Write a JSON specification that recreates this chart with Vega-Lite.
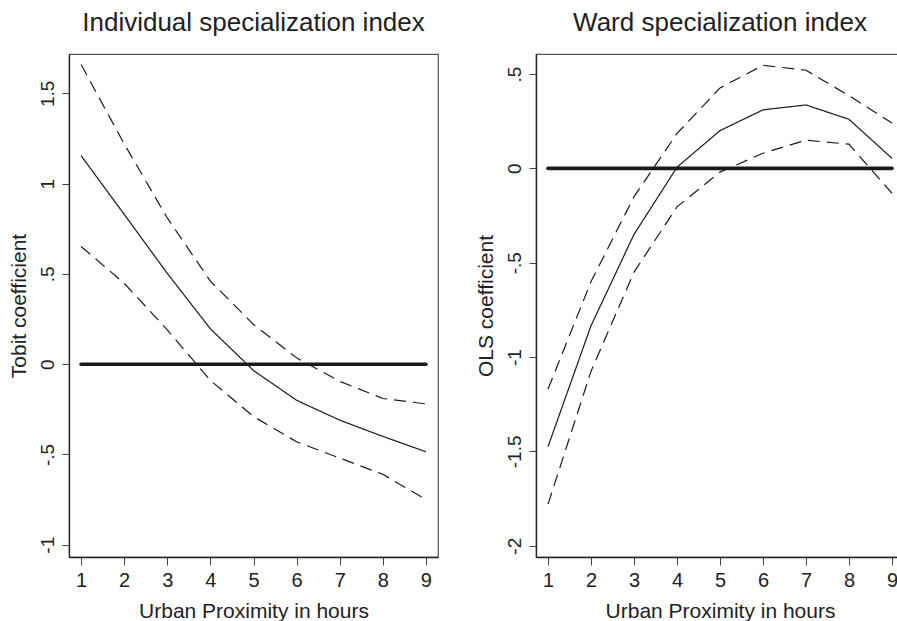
{
  "$schema": "https://vega.github.io/schema/vega-lite/v6.json",
  "padding": {"left": 7, "top": 9, "right": 0, "bottom": 0},
  "background": "white",
  "config": {
    "font": "Liberation Sans",
    "view": {"stroke": "#555", "strokeWidth": 1.2},
    "axis": {
      "grid": false,
      "domainColor": "#222",
      "domainWidth": 1.3,
      "tickColor": "#444",
      "tickWidth": 1,
      "labelColor": "#222",
      "labelFont": "Liberation Sans",
      "titleFont": "Liberation Sans",
      "titleFontSize": 21,
      "titleFontWeight": "normal",
      "titleColor": "#222",
      "labelFlush": false,
      "labelOverlap": false
    },
    "axisX": {"tickSize": 8, "labelPadding": 5, "titlePadding": 10, "labelFontSize": 20},
    "axisY": {"tickSize": 7, "labelPadding": 5, "titlePadding": 9, "labelAngle": -90, "labelFontSize": 19},
    "title": {"fontSize": 26, "fontWeight": "normal", "color": "#222", "font": "Liberation Sans", "frame": "group", "anchor": "middle", "baseline": "bottom", "offset": 18}
  },
  "datasets": {
    "ind": [
      {"x": 1, "series": "estimate", "value": 1.155},
      {"x": 2, "series": "estimate", "value": 0.83},
      {"x": 3, "series": "estimate", "value": 0.503},
      {"x": 4, "series": "estimate", "value": 0.196},
      {"x": 5, "series": "estimate", "value": -0.035},
      {"x": 6, "series": "estimate", "value": -0.2},
      {"x": 7, "series": "estimate", "value": -0.31},
      {"x": 8, "series": "estimate", "value": -0.4},
      {"x": 9, "series": "estimate", "value": -0.485},
      {"x": 1, "series": "upper", "value": 1.66},
      {"x": 2, "series": "upper", "value": 1.22},
      {"x": 3, "series": "upper", "value": 0.81},
      {"x": 4, "series": "upper", "value": 0.46},
      {"x": 5, "series": "upper", "value": 0.22},
      {"x": 6, "series": "upper", "value": 0.035},
      {"x": 7, "series": "upper", "value": -0.095},
      {"x": 8, "series": "upper", "value": -0.19},
      {"x": 9, "series": "upper", "value": -0.22},
      {"x": 1, "series": "lower", "value": 0.652},
      {"x": 2, "series": "lower", "value": 0.448},
      {"x": 3, "series": "lower", "value": 0.19},
      {"x": 4, "series": "lower", "value": -0.09},
      {"x": 5, "series": "lower", "value": -0.29},
      {"x": 6, "series": "lower", "value": -0.43},
      {"x": 7, "series": "lower", "value": -0.52},
      {"x": 8, "series": "lower", "value": -0.61},
      {"x": 9, "series": "lower", "value": -0.75}
    ],
    "ward": [
      {"x": 1, "series": "estimate", "value": -1.475},
      {"x": 2, "series": "estimate", "value": -0.834},
      {"x": 3, "series": "estimate", "value": -0.35},
      {"x": 4, "series": "estimate", "value": 0.006},
      {"x": 5, "series": "estimate", "value": 0.2},
      {"x": 6, "series": "estimate", "value": 0.31},
      {"x": 7, "series": "estimate", "value": 0.336},
      {"x": 8, "series": "estimate", "value": 0.26},
      {"x": 9, "series": "estimate", "value": 0.053},
      {"x": 1, "series": "upper", "value": -1.17},
      {"x": 2, "series": "upper", "value": -0.6},
      {"x": 3, "series": "upper", "value": -0.15},
      {"x": 4, "series": "upper", "value": 0.185},
      {"x": 5, "series": "upper", "value": 0.426},
      {"x": 6, "series": "upper", "value": 0.546},
      {"x": 7, "series": "upper", "value": 0.52},
      {"x": 8, "series": "upper", "value": 0.385},
      {"x": 9, "series": "upper", "value": 0.24},
      {"x": 1, "series": "lower", "value": -1.78},
      {"x": 2, "series": "lower", "value": -1.075},
      {"x": 3, "series": "lower", "value": -0.55},
      {"x": 4, "series": "lower", "value": -0.204},
      {"x": 5, "series": "lower", "value": -0.02},
      {"x": 6, "series": "lower", "value": 0.08},
      {"x": 7, "series": "lower", "value": 0.149},
      {"x": 8, "series": "lower", "value": 0.128},
      {"x": 9, "series": "lower", "value": -0.132}
    ]
  },
  "spacing": 98,
  "bounds": "flush",
  "hconcat": [
    {
      "title": "Individual specialization index",
      "width": 369,
      "height": 503,
      "layer": [
        {
          "data": {"name": "ind"},
          "mark": {"type": "line", "color": "#1a1a1a", "strokeWidth": 1.2},
          "encoding": {
            "x": {"field": "x", "type": "quantitative", "scale": {"domain": [0.72, 9.28], "nice": false, "zero": false},
                  "axis": {"values": [1, 2, 3, 4, 5, 6, 7, 8, 9], "title": "Urban Proximity in hours"}},
            "y": {"field": "value", "type": "quantitative", "scale": {"domain": [-1.068, 1.718], "nice": false, "zero": false},
                  "axis": {"values": [-1, -0.5, 0, 0.5, 1, 1.5], "title": "Tobit coefficient", "labelExpr": "replace(replace(format(datum.value, '.1~f'), '−', '-'), '0.', '.')"}},
            "strokeDash": {"field": "series", "type": "nominal", "scale": {"domain": ["estimate", "upper", "lower"], "range": [[1, 0], [12, 7], [12, 7]]}, "legend": null}
          }
        },
        {
          "data": {"values": [{}]},
          "mark": {"type": "rule", "color": "#1a1a1a", "strokeWidth": 3.6, "strokeCap": "round"},
          "encoding": {
            "x": {"datum": 1, "type": "quantitative"},
            "x2": {"datum": 9},
            "y": {"datum": 0, "type": "quantitative"}
          }
        }
      ]
    },
    {
      "title": "Ward specialization index",
      "width": 368,
      "height": 503,
      "layer": [
        {
          "data": {"name": "ward"},
          "mark": {"type": "line", "color": "#1a1a1a", "strokeWidth": 1.2},
          "encoding": {
            "x": {"field": "x", "type": "quantitative", "scale": {"domain": [0.72, 9.28], "nice": false, "zero": false},
                  "axis": {"values": [1, 2, 3, 4, 5, 6, 7, 8, 9], "title": "Urban Proximity in hours"}},
            "y": {"field": "value", "type": "quantitative", "scale": {"domain": [-2.06, 0.606], "nice": false, "zero": false},
                  "axis": {"values": [-2, -1.5, -1, -0.5, 0, 0.5], "title": "OLS coefficient", "labelExpr": "replace(replace(format(datum.value, '.1~f'), '−', '-'), '0.', '.')"}},
            "strokeDash": {"field": "series", "type": "nominal", "scale": {"domain": ["estimate", "upper", "lower"], "range": [[1, 0], [12, 7], [12, 7]]}, "legend": null}
          }
        },
        {
          "data": {"values": [{}]},
          "mark": {"type": "rule", "color": "#1a1a1a", "strokeWidth": 3.6, "strokeCap": "round"},
          "encoding": {
            "x": {"datum": 1, "type": "quantitative"},
            "x2": {"datum": 9},
            "y": {"datum": 0, "type": "quantitative"}
          }
        }
      ]
    }
  ],
  "resolve": {"scale": {"x": "independent", "y": "independent"}}
}
